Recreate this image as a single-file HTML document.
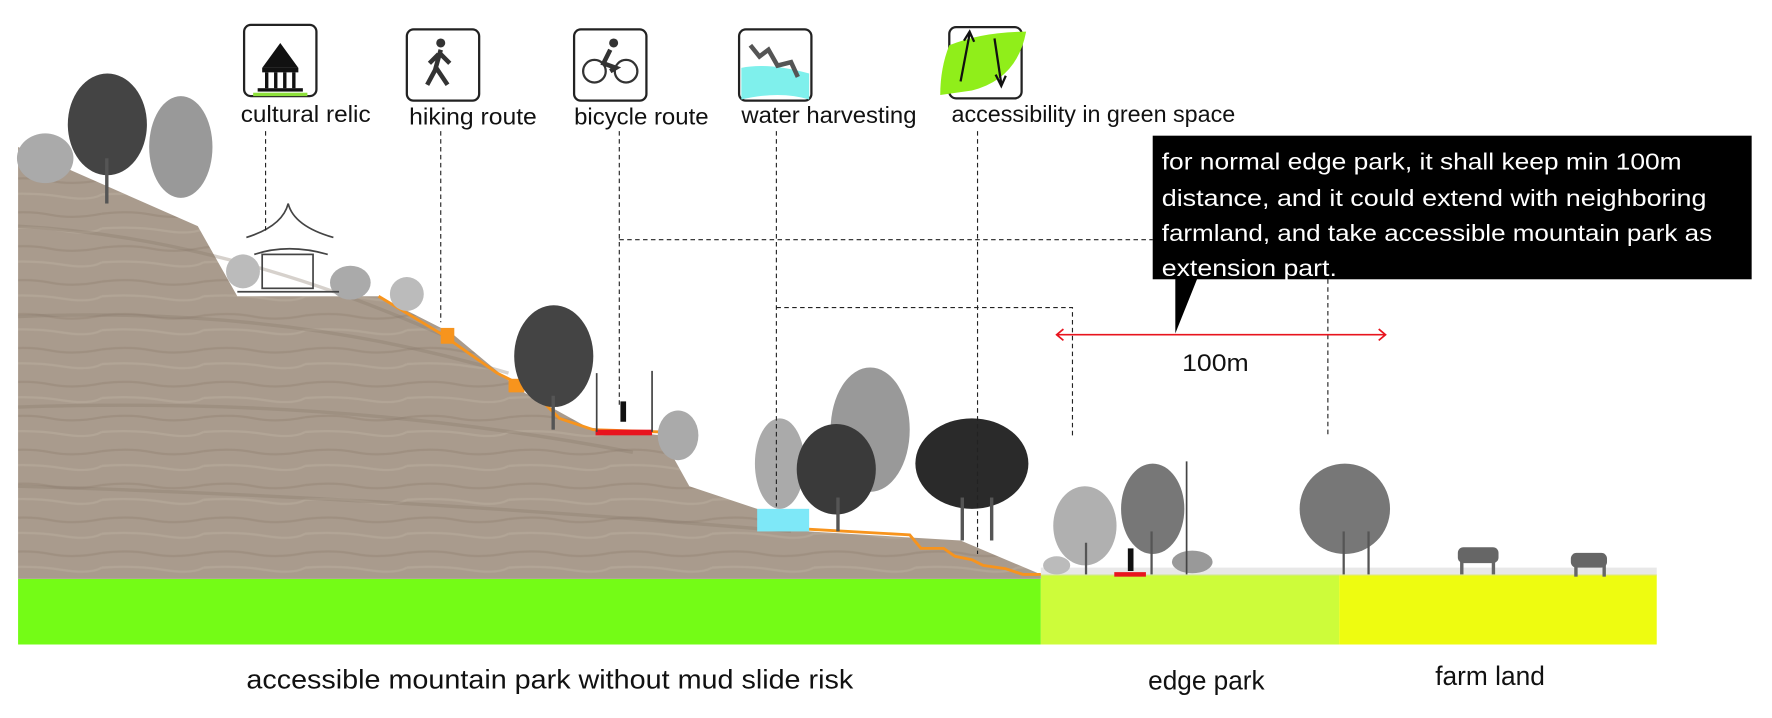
<!DOCTYPE html>
<html><head><meta charset="utf-8"><style>
html,body{margin:0;padding:0;background:#fff;}
svg{display:block;}
text{font-family:"Liberation Sans",sans-serif;}
</style></head><body>
<svg width="1772" height="718" viewBox="0 0 1568 635" preserveAspectRatio="none" xmlns="http://www.w3.org/2000/svg">
<defs>
<pattern id="rock" width="90" height="30" patternUnits="userSpaceOnUse">
<rect width="90" height="30" fill="#a99b8d"/>
<path d="M0 9 Q25 6 45 10 T90 9" stroke="#978979" stroke-width="2" fill="none" opacity="0.6"/>
<path d="M0 22 Q30 20 55 24 T90 22" stroke="#b8ab9d" stroke-width="2" fill="none" opacity="0.6"/>
</pattern>
</defs>
<!-- ground bands -->
<rect x="16" y="512" width="905" height="58" fill="#74fc16"/>
<rect x="921" y="508" width="264" height="62" fill="#cdfc3a"/>
<rect x="1185" y="508" width="281" height="62" fill="#eefc10"/>
<rect x="921" y="502" width="545" height="7" fill="#d8d8d8" opacity="0.6"/>
<!-- mountain -->
<path d="M16 130 L175 200 L210 262 L335 262 L400 295 L460 345 L520 378 L585 385 L610 430 L670 450 L715 470 L850 478 L921 508 L921 512 L16 512 Z" fill="url(#rock)"/>
<path d="M16 200 Q200 210 400 300 M16 280 Q250 270 450 330 M16 360 Q300 350 560 400 M16 430 Q350 440 700 470" stroke="#8a7c6e" stroke-width="3" fill="none" opacity="0.35"/>
<!-- orange path -->
<path d="M335 262 L390 295 L440 330 L470 345 L495 370 L525 380 L585 382" stroke="#f7941d" stroke-width="2.5" fill="none"/>
<rect x="390" y="290" width="12" height="14" fill="#f7941d"/>
<rect x="450" y="335" width="14" height="12" fill="#f7941d"/>
<path d="M715 468 L805 473 L815 485 L835 485 L845 492 L860 495 L870 500 L890 503 L905 508 L921 508" stroke="#f7941d" stroke-width="2.5" fill="none"/>
<rect x="527" y="380" width="50" height="5" fill="#e8141e"/>
<rect x="986" y="506" width="28" height="4" fill="#e8141e"/>
<rect x="670" y="450" width="46" height="20" fill="#7ee8f8"/>
<!-- trees -->
<g fill="#555">
<ellipse cx="160" cy="130" rx="28" ry="45" fill="#999"/>
<ellipse cx="95" cy="110" rx="35" ry="45" fill="#444"/><rect x="93" y="140" width="3" height="40"/>
<ellipse cx="40" cy="140" rx="25" ry="22" fill="#aaa"/>
<ellipse cx="490" cy="315" rx="35" ry="45" fill="#444"/><rect x="488" y="350" width="3" height="30"/>
<ellipse cx="600" cy="385" rx="18" ry="22" fill="#aaa"/>
<ellipse cx="310" cy="250" rx="18" ry="15" fill="#aaa"/><ellipse cx="360" cy="260" rx="15" ry="15" fill="#bbb"/>
<ellipse cx="215" cy="240" rx="15" ry="15" fill="#bbb"/>
<ellipse cx="770" cy="380" rx="35" ry="55" fill="#999"/>
<ellipse cx="690" cy="410" rx="22" ry="40" fill="#aaa"/>
<ellipse cx="740" cy="415" rx="35" ry="40" fill="#3a3a3a"/><rect x="740" y="440" width="3" height="30"/>
<ellipse cx="860" cy="410" rx="50" ry="40" fill="#2a2a2a"/><rect x="850" y="440" width="3" height="38"/><rect x="876" y="440" width="3" height="38"/>
<ellipse cx="960" cy="465" rx="28" ry="35" fill="#b0b0b0"/><rect x="960" y="480" width="2" height="28"/>
<ellipse cx="1020" cy="450" rx="28" ry="40" fill="#777"/><rect x="1018" y="470" width="2" height="38"/>
<ellipse cx="1190" cy="450" rx="40" ry="40" fill="#777"/><rect x="1188" y="470" width="2" height="38"/><rect x="1210" y="470" width="2" height="38"/>
<ellipse cx="1055" cy="497" rx="18" ry="10" fill="#999"/>
<ellipse cx="935" cy="500" rx="12" ry="8" fill="#bbb"/>
</g>
<!-- pavilion -->
<g stroke="#444" fill="none" stroke-width="1.5">
<path d="M218 210 Q250 200 255 180 Q260 200 295 210"/><path d="M225 225 Q255 215 290 225"/>
<rect x="232" y="225" width="45" height="30"/><path d="M210 258 H300"/>
</g>
<!-- lamps and people -->
<path d="M528 330 V382 M577 328 V382 M1050 408 V508" stroke="#444" stroke-width="1.5"/>
<rect x="549" y="355" width="5" height="18" fill="#111"/>
<rect x="998" y="485" width="5" height="20" fill="#111"/>
<!-- cows -->
<g fill="#666"><rect x="1290" y="484" width="36" height="14" rx="5"/><rect x="1292" y="496" width="3" height="12"/><rect x="1320" y="496" width="3" height="12"/>
<rect x="1390" y="489" width="32" height="13" rx="5"/><rect x="1393" y="500" width="3" height="10"/><rect x="1418" y="500" width="3" height="10"/></g>
<!-- icons -->
<g stroke="#222" stroke-width="2" fill="#fff">
<rect x="216" y="22" width="64" height="63" rx="6"/>
<rect x="360" y="26" width="64" height="63" rx="6"/>
<rect x="508" y="26" width="64" height="63" rx="6"/>
<rect x="654" y="26" width="64" height="63" rx="6"/>
<rect x="840" y="24" width="64" height="63" rx="6"/>
</g>
<path d="M248 38 L232 60 H264 Z" fill="#111"/><rect x="232" y="60" width="32" height="4" fill="#111"/>
<path d="M236 64 V78 M244 64 V78 M252 64 V78 M260 64 V78" stroke="#111" stroke-width="3"/><rect x="228" y="78" width="40" height="3" fill="#111"/>
<rect x="224" y="82" width="48" height="3" fill="#8de03a"/>
<circle cx="390" cy="38" r="4" fill="#333"/><path d="M390 44 L385 62 L378 75 M386 60 L396 75 M388 48 L380 56 M390 48 L398 56" stroke="#333" stroke-width="4" fill="none"/>
<circle cx="526" cy="63" r="10" stroke="#333" stroke-width="2" fill="none"/><circle cx="554" cy="63" r="10" stroke="#333" stroke-width="2" fill="none"/>
<circle cx="543" cy="38" r="4" fill="#333"/><path d="M540 44 L534 56 L545 60 L540 63" stroke="#333" stroke-width="4" fill="none"/>
<path d="M656 60 Q680 55 716 65 V88 Q690 80 656 88 Z" fill="#7ff0ec"/>
<path d="M664 40 L672 50 L680 44 L688 58 L700 55 L706 68" stroke="#555" stroke-width="4" fill="none"/>
<path d="M840 40 Q870 28 908 28 Q900 70 860 80 L832 84 Q832 60 840 40 Z" fill="#90ee1a"/>
<path d="M850 72 L858 30 M853 36 L858 28 L862 37 M880 34 L886 74 M881 66 L886 76 L890 67" stroke="#111" stroke-width="2" fill="none"/>
<!-- labels -->
<g font-size="20.5" fill="#111">
<text x="213" y="108" textLength="115" lengthAdjust="spacingAndGlyphs">cultural relic</text>
<text x="362" y="110" textLength="113" lengthAdjust="spacingAndGlyphs">hiking route</text>
<text x="508" y="110" textLength="119" lengthAdjust="spacingAndGlyphs">bicycle route</text>
<text x="656" y="109" textLength="155" lengthAdjust="spacingAndGlyphs">water harvesting</text>
<text x="842" y="108" textLength="251" lengthAdjust="spacingAndGlyphs">accessibility in green space</text>
</g>
<!-- dashed leaders -->
<g stroke="#222" stroke-width="1" stroke-dasharray="4,3" fill="none">
<path d="M235 116 V205"/><path d="M390 116 V285"/><path d="M548 116 V360"/>
<path d="M687 116 V448"/><path d="M865 116 V490"/>
<path d="M548 212 H1020"/><path d="M687 272 H949 V385"/><path d="M1175 247 V385"/>
</g>
<!-- callout -->
<rect x="1020" y="120" width="530" height="127" fill="#000"/>
<path d="M1040 245 L1060 245 L1040 295 Z" fill="#000"/>
<g font-size="20.5" fill="#fff">
<text x="1028" y="150" textLength="460" lengthAdjust="spacingAndGlyphs">for normal edge park, it shall keep min 100m</text>
<text x="1028" y="182" textLength="482" lengthAdjust="spacingAndGlyphs">distance, and it could extend with neighboring</text>
<text x="1028" y="213" textLength="487" lengthAdjust="spacingAndGlyphs">farmland, and take accessible mountain park as</text>
<text x="1028" y="244" textLength="155" lengthAdjust="spacingAndGlyphs">extension part.</text>
</g>
<!-- 100m -->
<path d="M935 296 H1226" stroke="#e8141e" stroke-width="1.5"/>
<path d="M941 291 L935 296 L941 301 M1220 291 L1226 296 L1220 301" stroke="#e8141e" stroke-width="1.5" fill="none"/>
<text x="1046" y="328" font-size="21" fill="#111" textLength="59" lengthAdjust="spacingAndGlyphs">100m</text>
<!-- bottom labels -->
<g font-size="24" fill="#111">
<text x="218" y="609" textLength="537" lengthAdjust="spacingAndGlyphs">accessible mountain park without mud slide risk</text>
<text x="1016" y="610" textLength="103" lengthAdjust="spacingAndGlyphs">edge park</text>
<text x="1270" y="606" textLength="97" lengthAdjust="spacingAndGlyphs">farm land</text>
</g>
</svg>
</body></html>
